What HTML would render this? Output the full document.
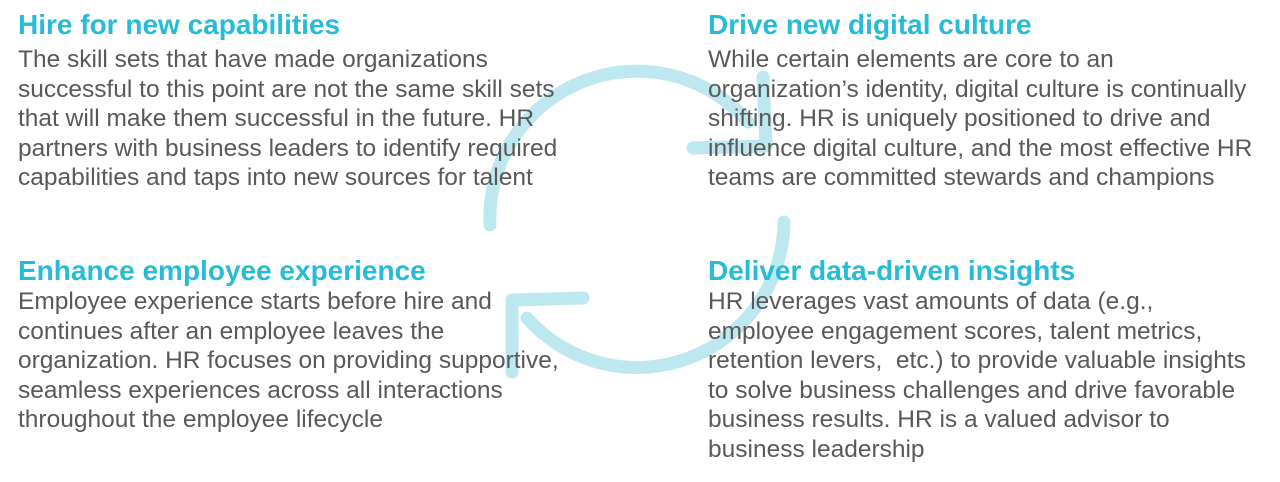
<!DOCTYPE html>
<html><head><meta charset="utf-8"><style>
body{margin:0;width:1280px;height:482px;background:#fff;position:relative;overflow:hidden;font-family:"Liberation Sans",Arial,sans-serif}
svg{position:absolute;left:0;top:0}
.b{position:absolute;width:620px}
h2{margin:0;color:#26BCD7;font-size:28px;font-weight:bold;line-height:31px}
p{margin:0;color:#595959;font-size:24.5px;line-height:29.6px;white-space:nowrap}
.t p{margin-top:5px}
.u p{margin-top:1px}
</style></head><body>
<svg width="1280" height="482">
<g fill="none" stroke="#BDE8F0" stroke-width="13" stroke-linecap="round" stroke-linejoin="round">
<path d="M490 225 A147 147 0 0 1 748 122"/>
<path d="M763 77 L766 146 L693 148"/>
<path d="M784 222 A147 147 0 0 1 527 318"/>
<path d="M583 298 L512 300 L512 372"/>
</g>
</svg>
<div class="b t" style="left:18px;top:9px"><h2>Hire for new capabilities</h2><p>The skill sets that have made organizations<br>successful to this point are not the same skill sets<br>that will make them successful in the future. HR<br>partners with business leaders to identify required<br>capabilities and taps into new sources for talent</p></div>
<div class="b t" style="left:708px;top:9px"><h2>Drive new digital culture</h2><p>While certain elements are core to an<br>organization’s identity, digital culture is continually<br>shifting. HR is uniquely positioned to drive and<br>influence digital culture, and the most effective HR<br>teams are committed stewards and champions</p></div>
<div class="b u" style="left:18px;top:255px"><h2>Enhance employee experience</h2><p>Employee experience starts before hire and<br>continues after an employee leaves the<br>organization. HR focuses on providing supportive,<br>seamless experiences across all interactions<br>throughout the employee lifecycle</p></div>
<div class="b u" style="left:708px;top:255px"><h2>Deliver data-driven insights</h2><p>HR leverages vast amounts of data (e.g.,<br>employee engagement scores, talent metrics,<br>retention levers,&nbsp; etc.) to provide valuable insights<br>to solve business challenges and drive favorable<br>business results. HR is a valued advisor to<br>business leadership</p></div>
</body></html>
